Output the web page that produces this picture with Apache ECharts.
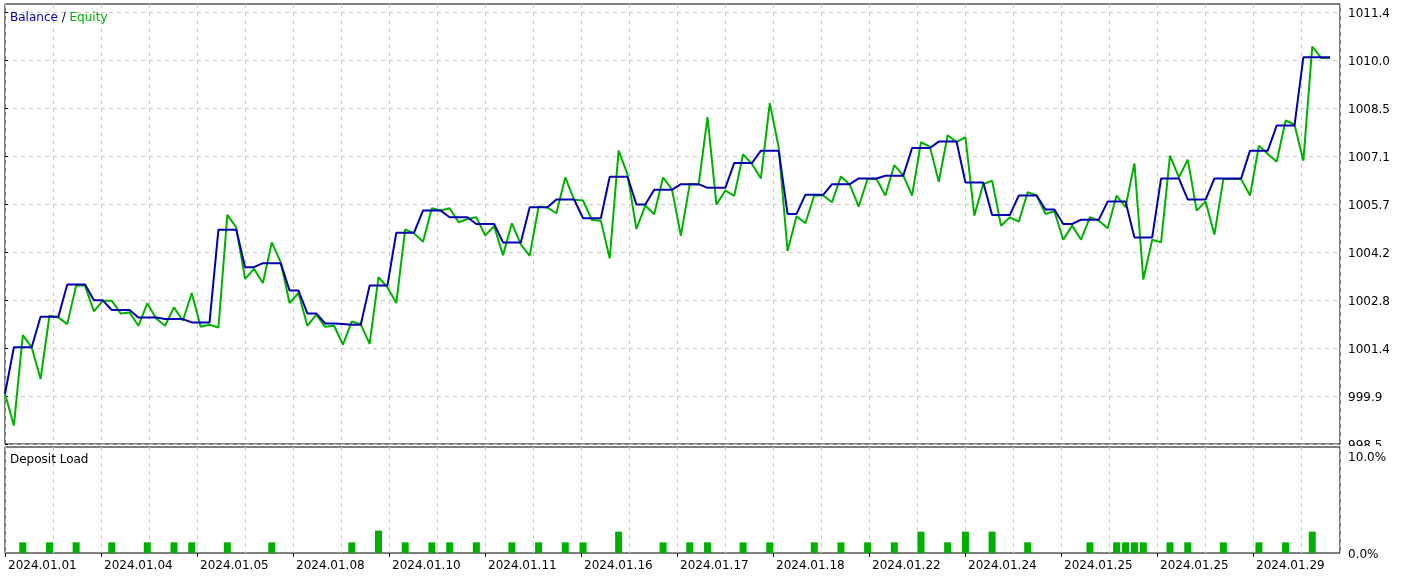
<!DOCTYPE html>
<html>
<head>
<meta charset="utf-8">
<script src="https://cdn.jsdelivr.net/npm/echarts@6/dist/echarts.min.js"></script>
<style>
html,body{margin:0;padding:0;background:#fff;}
#chart{width:1405px;height:577px;}
</style>
</head>
<body>
<div id="chart"></div>
<script>
// ---------------- data ----------------
const balance = [
  1000.00,1001.39,1001.39,1001.39,1002.30,1002.30,1002.30,1003.26,1003.26,1003.26,
  1002.79,1002.79,1002.50,1002.50,1002.50,1002.28,1002.28,1002.28,1002.23,1002.23,
  1002.23,1002.13,1002.13,1002.13,1004.90,1004.90,1004.90,1003.78,1003.78,1003.90,
  1003.90,1003.90,1003.08,1003.08,1002.40,1002.40,1002.10,1002.10,1002.08,1002.06,
  1002.06,1003.23,1003.23,1003.23,1004.81,1004.81,1004.81,1005.47,1005.47,1005.47,
  1005.27,1005.27,1005.27,1005.07,1005.07,1005.07,1004.52,1004.52,1004.52,1005.57,
  1005.57,1005.57,1005.80,1005.80,1005.80,1005.24,1005.24,1005.24,1006.48,1006.48,
  1006.48,1005.65,1005.65,1006.09,1006.09,1006.09,1006.26,1006.26,1006.26,1006.15,
  1006.15,1006.15,1006.89,1006.89,1006.89,1007.26,1007.26,1007.26,1005.37,1005.37,
  1005.94,1005.94,1005.94,1006.26,1006.26,1006.26,1006.43,1006.43,1006.43,1006.51,
  1006.51,1006.51,1007.34,1007.34,1007.34,1007.53,1007.53,1007.53,1006.31,1006.31,
  1006.31,1005.34,1005.34,1005.34,1005.92,1005.92,1005.92,1005.50,1005.50,1005.07,
  1005.07,1005.20,1005.20,1005.20,1005.74,1005.74,1005.74,1004.67,1004.67,1004.67,
  1006.43,1006.43,1006.43,1005.80,1005.80,1005.80,1006.43,1006.43,1006.43,1006.43,
  1007.26,1007.26,1007.26,1008.01,1008.01,1008.01,1010.05,1010.05,1010.05,1010.05
];
const equity = [
  1000.00,999.05,1001.75,1001.39,1000.44,1002.33,1002.28,1002.08,1003.23,1003.23,
  1002.46,1002.78,1002.78,1002.40,1002.43,1002.03,1002.70,1002.25,1002.03,1002.58,
  1002.18,1003.01,1002.00,1002.06,1001.98,1005.34,1004.97,1003.43,1003.73,1003.31,
  1004.52,1003.93,1002.71,1003.01,1002.03,1002.36,1002.00,1002.03,1001.47,1002.16,
  1002.08,1001.49,1003.48,1003.18,1002.71,1004.91,1004.79,1004.54,1005.54,1005.47,
  1005.54,1005.12,1005.22,1005.27,1004.73,1005.00,1004.14,1005.09,1004.46,1004.12,
  1005.59,1005.56,1005.39,1006.46,1005.79,1005.77,1005.19,1005.17,1004.04,1007.26,
  1006.55,1004.92,1005.62,1005.36,1006.46,1006.10,1004.72,1006.26,1006.25,1008.26,
  1005.65,1006.07,1005.91,1007.15,1006.86,1006.43,1008.68,1007.36,1004.26,1005.30,
  1005.09,1005.92,1005.92,1005.72,1006.49,1006.24,1005.59,1006.42,1006.41,1005.92,
  1006.83,1006.52,1005.92,1007.51,1007.38,1006.33,1007.72,1007.52,1007.66,1005.32,
  1006.26,1006.36,1005.02,1005.27,1005.14,1006.02,1005.92,1005.37,1005.45,1004.60,
  1005.02,1004.60,1005.27,1005.17,1004.94,1005.92,1005.57,1006.88,1003.41,1004.60,
  1004.52,1007.11,1006.46,1006.99,1005.47,1005.74,1004.75,1006.41,1006.41,1006.41,
  1005.92,1007.41,1007.16,1006.93,1008.16,1008.04,1006.96,1010.37,1010.03,1010.03
];
// deposit load (%): deal number and load
const loadDeal  = [2,5,8,12,16,19,21,25,30,39,42,45,48,50,53,57,60,63,65,69,74,77,79,83,86,91,94,97,100,103,106,108,111,115,122,125,126,127,128,131,133,137,141,144,147];
const loadValue = [1.1,1.1,1.1,1.1,1.1,1.1,1.1,1.1,1.1,1.1,2.3,1.1,1.1,1.1,1.1,1.1,1.1,1.1,1.1,2.2,1.1,1.1,1.1,1.1,1.1,1.1,1.1,1.1,1.1,2.2,1.1,2.2,2.2,1.1,1.1,1.1,1.1,1.1,1.1,1.1,1.1,1.1,1.1,1.1,2.2];
const xLabels = ['2024.01.01','2024.01.04','2024.01.05','2024.01.08','2024.01.10','2024.01.11','2024.01.16','2024.01.17','2024.01.18','2024.01.22','2024.01.24','2024.01.25','2024.01.25','2024.01.29'];
const yLabels = ['998.5','999.9','1001.4','1002.8','1004.2','1005.7','1007.1','1008.5','1010.0','1011.4'];
const yBottom = 998.5, yTop = 1011.4;

// ---------------- layout ----------------
const FONT = 'DejaVu Sans';
const BLUE = '#0000b0', GREEN = '#00b000', GRIDC = '#c8c8c8';
const plotLeft = 5, plotRight = 1340;
const pxPerDeal = 8.893;
const xMax = (plotRight - plotLeft) / pxPerDeal;
const gridStep = 48 / pxPerDeal;        // vertical grid every 48px
const labelStep = 2 * gridStep;         // labels every 96px
const mainTop = 4, mainH = 440;
const yStep = (yTop - yBottom) / (yLabels.length - 1);
const yUnits = mainH / 48;              // 48px per y grid step
const loadTop = 447, loadH = 106, loadMax = 10 * loadH / 97;

const tickVals = xLabels.map((_, k) => k * labelStep);
const yTickVals = yLabels.map((_, k) => k);
const labRich = {t: {fontSize: 12, color: '#000', fontFamily: FONT, padding: [4, 0, 0, 0]}};

const chart = echarts.init(document.getElementById('chart'), null, {renderer: 'canvas'});
const option = {
  animation: false,
  backgroundColor: '#fff',
  textStyle: {fontFamily: FONT},
  title: [
    {
      text: '{b|Balance} {s|/} {e|Equity}',
      left: 10, top: 12, padding: 0,
      textStyle: {
        fontSize: 12, fontWeight: 'normal', fontFamily: FONT,
        rich: {
          b: {color: BLUE, fontSize: 12, fontFamily: FONT},
          s: {color: '#000040', fontSize: 12, fontFamily: FONT},
          e: {color: GREEN, fontSize: 12, fontFamily: FONT}
        }
      }
    },
    {
      text: 'Deposit Load', left: 10, top: 454, padding: 0,
      textStyle: {fontSize: 12, fontWeight: 'normal', color: '#000', fontFamily: FONT}
    }
  ],
  grid: [
    {left: plotLeft, right: 1405 - plotRight, top: mainTop, height: mainH,
     show: true, borderColor: '#000', borderWidth: 1, backgroundColor: 'transparent'},
    {left: plotLeft, right: 1405 - plotRight, top: loadTop, height: loadH,
     show: true, borderColor: '#000', borderWidth: 1, backgroundColor: 'transparent'}
  ],
  xAxis: [
    {gridIndex: 0, type: 'value', min: 0, max: xMax, interval: gridStep,
     axisLine: {show: false}, axisTick: {show: false}, axisLabel: {show: false},
     splitLine: {show: true, lineStyle: {color: GRIDC, type: [4, 4], width: 1}}},
    {gridIndex: 1, type: 'value', min: 0, max: xMax, interval: gridStep, position: 'top',
     axisLine: {show: false}, axisTick: {show: false}, axisLabel: {show: false},
     splitLine: {show: true, lineStyle: {color: GRIDC, type: [4, 4], width: 1}}},
    {gridIndex: 1, type: 'value', min: 0, max: xMax, interval: labelStep, position: 'bottom',
     axisLine: {show: false}, splitLine: {show: false},
     axisTick: {show: true, length: 4, lineStyle: {color: '#000'}, customValues: tickVals},
     axisLabel: {show: true, customValues: tickVals, align: 'left', margin: 6,
       padding: [1, 0, 0, 3],
       fontSize: 12, color: '#000', fontFamily: FONT,
       formatter: v => {
         const k = Math.round(v / labelStep);
         return Math.abs(v - k * labelStep) < 1e-6 && xLabels[k] ? xLabels[k] : '';
       }}}
  ],
  yAxis: [
    {gridIndex: 0, type: 'value', min: 0, max: yUnits, interval: 1, position: 'right',
     axisLine: {show: false},
     axisTick: {show: true, length: 3, lineStyle: {color: '#000'}, customValues: yTickVals},
     axisLabel: {show: true, customValues: yTickVals, margin: 8, fontSize: 12, color: '#000', fontFamily: FONT,
       rich: labRich,
       formatter: v => {
         const k = Math.round(v);
         return Math.abs(v - k) < 1e-6 && yLabels[k] ? '{t|' + yLabels[k] + '}' : '';
       }},
     splitLine: {show: true, lineStyle: {color: GRIDC, type: [4, 4], width: 1}}},
    {gridIndex: 0, type: 'value', show: false, min: yBottom, max: yBottom + yUnits * yStep,
     splitLine: {show: false}},
    {gridIndex: 1, type: 'value', min: 0, max: loadMax, interval: 10, position: 'right',
     axisLine: {show: false}, axisTick: {show: false}, splitLine: {show: false},
     axisLabel: {show: true, margin: 8, fontSize: 12, color: '#000', fontFamily: FONT,
       rich: labRich,
       formatter: v => (Math.abs(v) < 1e-6 ? '{t|0.0%}' : (Math.abs(v - 10) < 1e-6 ? '{t|10.0%}' : ''))}}
  ],
  series: [
    {name: 'Equity', type: 'line', xAxisIndex: 0, yAxisIndex: 1,
     data: equity.map((v, i) => [i, v]), showSymbol: false, symbol: 'none',
     lineStyle: {color: GREEN, width: 2}, z: 3},
    {name: 'Balance', type: 'line', xAxisIndex: 0, yAxisIndex: 1,
     data: balance.map((v, i) => [i, v]), showSymbol: false, symbol: 'none',
     lineStyle: {color: BLUE, width: 2}, z: 4},
    {name: 'Deposit Load', type: 'bar', xAxisIndex: 2, yAxisIndex: 2,
     data: loadDeal.map((d, k) => [d, loadValue[k]]), barWidth: 7,
     itemStyle: {color: GREEN}, z: 3}
  ],
  graphic: [
    {type: 'rect', z: 100, silent: true,
     shape: {x: plotRight + 1, y: mainTop + mainH + 2, width: 64, height: 5},
     style: {fill: '#fff'}}
  ]
};
chart.setOption(option);
</script>
</body>
</html>
